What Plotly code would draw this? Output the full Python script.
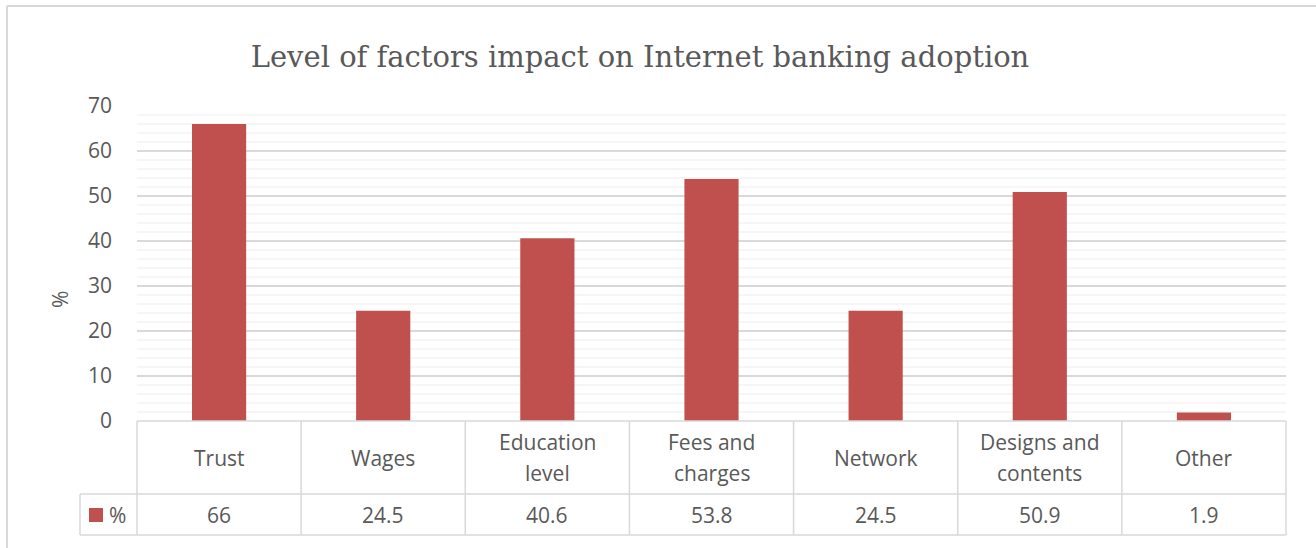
import plotly.graph_objects as go

categories = ["Trust", "Wages", "Education<br>level", "Fees and<br>charges", "Network", "Designs and<br>contents", "Other"]
values = [66, 24.5, 40.6, 53.8, 24.5, 50.9, 1.9]
value_labels = ["66", "24.5", "40.6", "53.8", "24.5", "50.9", "1.9"]
series_name = "%"
title = "Level of factors impact on Internet banking adoption"
y_ticks = [0, 10, 20, 30, 40, 50, 60, 70]

W, H = 1316, 548
L, R, T, B = 137, 30, 106, 127
PW = W - L - R
PH = H - T - B
BAR_COLOR = "#C0504D"
TXT = "#595959"
GRID = "#D9D9D9"
FONT = "Open Sans"
FS = 21

def px_x(px):
    return (px - L) / PW

def px_y(py):
    return (H - B - py) / PH

fig = go.Figure()
fig.add_trace(go.Bar(x=list(range(len(categories))), y=values, marker_color=BAR_COLOR,
                     marker_line_width=0, width=0.33, name=series_name, showlegend=False))

# minor gridlines every 2
shapes = []
for v in range(2, 70, 2):
    if v % 10 == 0:
        continue
    shapes.append(dict(type="line", xref="paper", yref="y", x0=0, x1=1, y0=v, y1=v,
                       line=dict(color="#EDEDED", width=1), layer="below"))

# table
n = len(categories)
row1_bot = px_y(494)
row2_bot = px_y(535)
legend_left = px_x(80)
line = dict(color=GRID, width=1.5)
shapes.append(dict(type="line", xref="paper", yref="paper", x0=0, x1=1, y0=0, y1=0, line=line))
shapes.append(dict(type="line", xref="paper", yref="paper", x0=legend_left, x1=1, y0=row1_bot, y1=row1_bot, line=line))
shapes.append(dict(type="line", xref="paper", yref="paper", x0=legend_left, x1=1, y0=row2_bot, y1=row2_bot, line=line))
for i in range(n + 1):
    xx = i / n
    shapes.append(dict(type="line", xref="paper", yref="paper", x0=xx, x1=xx, y0=row2_bot, y1=0, line=line))
shapes.append(dict(type="line", xref="paper", yref="paper", x0=legend_left, x1=legend_left, y0=row2_bot, y1=row1_bot, line=line))
# legend key
shapes.append(dict(type="rect", xref="paper", yref="paper", x0=px_x(89), x1=px_x(103), y0=px_y(522), y1=px_y(508),
                   fillcolor=BAR_COLOR, line=dict(width=0)))
# outer chart border (left & top)
shapes.append(dict(type="line", xref="paper", yref="paper", x0=px_x(7), x1=px_x(7), y0=px_y(6), y1=px_y(548), line=dict(color="#D9D9D9", width=2)))
shapes.append(dict(type="line", xref="paper", yref="paper", x0=px_x(7), x1=px_x(1316), y0=px_y(6), y1=px_y(6), line=dict(color="#D9D9D9", width=2)))

annotations = []
row1_mid_px = (421 + 494) / 2
LINE_GAP = 31
for i, (c, lab) in enumerate(zip(categories, value_labels)):
    xc = (i + 0.5) / n
    parts = c.split("<br>")
    k = len(parts)
    for j, part in enumerate(parts):
        ypx = row1_mid_px + (j - (k - 1) / 2) * LINE_GAP
        annotations.append(dict(xref="paper", yref="paper", x=xc, y=px_y(ypx), text=part, showarrow=False,
                                font=dict(family=FONT, size=FS, color=TXT), xanchor="center", yanchor="middle"))
    annotations.append(dict(xref="paper", yref="paper", x=xc, y=(row1_bot + row2_bot) / 2, text=lab, showarrow=False,
                            font=dict(family=FONT, size=FS, color=TXT), xanchor="center", yanchor="middle"))
annotations.append(dict(xref="paper", yref="paper", x=px_x(107), y=(row1_bot + row2_bot) / 2, text=series_name,
                        showarrow=False, font=dict(family=FONT, size=FS, color=TXT), xanchor="left", yanchor="middle"))
# y axis title
annotations.append(dict(xref="paper", yref="paper", x=px_x(60), y=px_y(300), text=series_name, textangle=-90,
                        showarrow=False, font=dict(family=FONT, size=FS, color=TXT), xanchor="center", yanchor="middle"))

fig.update_layout(
    width=W, height=H, margin=dict(l=L, r=R, t=T, b=B),
    paper_bgcolor="white", plot_bgcolor="white",
    title=dict(text=title, x=640 / W, xanchor="center", y=1 - 57 / H, yanchor="middle",
               font=dict(family="DejaVu Serif", size=29, color=TXT)),
    xaxis=dict(range=[-0.5, n - 0.5], showticklabels=False, showgrid=False, zeroline=False,
               showline=False, ticks=""),
    yaxis=dict(range=[0, 70], tickvals=y_ticks, showgrid=True, gridcolor=GRID, gridwidth=1.5,
               zeroline=False, showline=False, ticks="", ticklabelstandoff=24,
               tickfont=dict(family=FONT, size=FS, color=TXT)),
    shapes=shapes, annotations=annotations, bargap=0.67,
)
fig.write_html("out.html", config={"displayModeBar": False},
               post_script="document.body.style.margin='0';")
